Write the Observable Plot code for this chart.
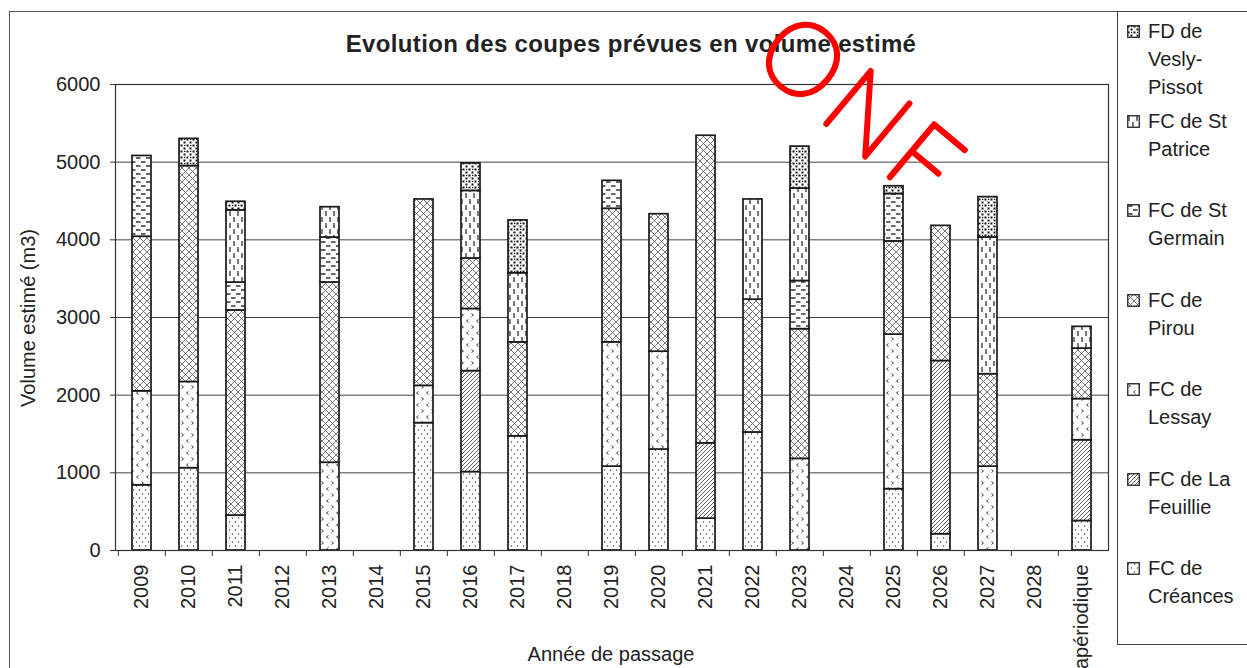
<!DOCTYPE html>
<html>
<head>
<meta charset="utf-8">
<script src="https://cdn.jsdelivr.net/npm/d3@7"></script>
<script src="https://cdn.jsdelivr.net/npm/@observablehq/plot@0.6"></script>
<style>
  body { margin: 0; background: #fff; font-family: "Liberation Sans", Arial, sans-serif; color: #222; }
  #wrap { position: relative; width: 1247px; height: 668px; overflow: hidden; background: #fff; }
  #frame { position: absolute; left: 9px; top: 11px; width: 1400px; height: 800px; border: 1.5px solid #555; box-sizing: border-box; }
  #chart { position: absolute; left: 0; top: 0; }
  #title { position: absolute; left: 0; width: 1262px; top: 32px; text-align: center; font-weight: bold; font-size: 24px; line-height: 24px; letter-spacing: 0.35px; color: #222; }
  #ylabel { position: absolute; left: 28px; top: 318px; font-size: 20px; line-height: 20px; white-space: nowrap; transform: translate(-50%, -50%) rotate(-90deg); }
  #xlabel { position: absolute; left: 0; width: 1222px; top: 644px; text-align: center; font-size: 20px; line-height: 20px; }
  #legend { position: absolute; left: 1117px; top: 11px; width: 300px; height: 634px; border: 1.5px solid #444; box-sizing: border-box; background: #fff; }
  .entry { position: absolute; left: 0; font-size: 20px; line-height: 28px; }
  .entry svg { position: absolute; left: 9px; top: 8px; }
  .entry .txt { position: absolute; left: 30px; top: 0; white-space: nowrap; }
  #wm { position: absolute; left: 0; top: 0; pointer-events: none; }
</style>
</head>
<body>
<div id="wrap">
  <svg width="0" height="0" style="position:absolute">
    <defs>
      <pattern id="p-creances" width="6" height="8" patternUnits="userSpaceOnUse">
        <rect width="6" height="8" fill="#fff"/>
        <circle cx="1.5" cy="2" r="0.75" fill="#444"/>
        <circle cx="4.5" cy="6" r="0.75" fill="#444"/>
      </pattern>
      <pattern id="p-feuillie" width="4" height="4" patternUnits="userSpaceOnUse">
        <rect width="4" height="4" fill="#fff"/>
        <path d="M-1,1 L1,-1 M0,4 L4,0 M3,5 L5,3" stroke="#444" stroke-width="0.85"/>
      </pattern>
      <pattern id="p-lessay" width="10" height="12" patternUnits="userSpaceOnUse">
        <rect width="10" height="12" fill="#fff"/>
        <path d="M1.5,1.5 L3.5,3 L1.5,4.5 M8.5,7.5 L6.5,9 L8.5,10.5" stroke="#444" stroke-width="1" fill="none"/>
      </pattern>
      <pattern id="p-pirou" width="7" height="7" patternUnits="userSpaceOnUse">
        <rect width="7" height="7" fill="#fff"/>
        <path d="M0,0 L7,7 M7,0 L0,7" stroke="#555" stroke-width="0.8"/>
      </pattern>
      <pattern id="p-germain" width="10" height="8" patternUnits="userSpaceOnUse">
        <rect width="10" height="8" fill="#fff"/>
        <path d="M1,2 L5.5,2 M6,6 L10.5,6 M-4,6 L0.5,6" stroke="#333" stroke-width="1.3"/>
      </pattern>
      <pattern id="p-patrice" width="8" height="12" patternUnits="userSpaceOnUse">
        <rect width="8" height="12" fill="#fff"/>
        <path d="M2,1 L2,6 M6,7 L6,12" stroke="#333" stroke-width="1.3"/>
      </pattern>
      <pattern id="p-vesly" width="6" height="6" patternUnits="userSpaceOnUse">
        <rect width="6" height="6" fill="#fff"/>
        <rect x="0.5" y="0.5" width="2" height="2" fill="#111"/>
        <rect x="3.5" y="3.5" width="2" height="2" fill="#111"/>
        <rect x="4" y="0.8" width="1.3" height="1.3" fill="#111"/>
      </pattern>
    </defs>
  </svg>
  <div id="frame"></div>
  <div id="chart"></div>
  <div id="title">Evolution des coupes prévues en volume estimé</div>
  <div id="ylabel">Volume estimé (m3)</div>
  <div id="xlabel">Année de passage</div>
  <div id="legend"></div>
  <svg id="wm" width="1247" height="668">
    <text transform="translate(840,136) rotate(40)" text-anchor="middle" font-family="Lato, 'DejaVu Sans', sans-serif" font-weight="100" font-size="100" letter-spacing="8" fill="#f00" stroke="#f00" stroke-width="5" stroke-linejoin="round">ONF</text>
  </svg>
</div>
<script>
const categories = ["2009","2010","2011","2012","2013","2014","2015","2016","2017","2018","2019","2020","2021","2022","2023","2024","2025","2026","2027","2028","apériodique"];
const forests = ["FC de Créances","FC de La Feuillie","FC de Lessay","FC de Pirou","FC de St Germain","FC de St Patrice","FD de Vesly-Pissot"];
const legendLines = [["FC de","Créances"],["FC de La","Feuillie"],["FC de","Lessay"],["FC de","Pirou"],["FC de St","Germain"],["FC de St","Patrice"],["FD de","Vesly-","Pissot"]];
const patternIds = ["p-creances","p-feuillie","p-lessay","p-pirou","p-germain","p-patrice","p-vesly"];

const creances = [840,1060,450,0,0,0,1640,1010,1470,0,1080,1300,410,1520,0,0,790,210,0,0,380];
const feuillie = [0,0,0,0,0,0,0,1300,0,0,0,0,970,0,0,0,0,2230,0,0,1040];
const lessay   = [1210,1110,0,0,1130,0,480,800,0,0,1600,1260,0,0,1180,0,1990,0,1080,0,530];
const pirou    = [1990,2780,2640,0,2320,0,2400,650,1210,0,1720,1770,3960,1710,1670,0,1200,1740,1190,0,650];
const germain  = [1040,0,360,0,580,0,0,0,0,0,360,0,0,0,620,0,610,0,0,0,0];
const patrice  = [0,0,930,0,390,0,0,870,890,0,0,0,0,1290,1190,0,0,0,1760,0,280];
const vesly    = [0,350,110,0,0,0,0,355,680,0,0,0,0,0,540,0,100,0,520,0,0];
const yTicks = [0,1000,2000,3000,4000,5000,6000];

const series = [creances, feuillie, lessay, pirou, germain, patrice, vesly];
const fills = patternIds.map(id => `url(#${id})`);

const rows = [];
forests.forEach((f, k) => series[k].forEach((v, i) => {
  if (v > 0) rows.push({cat: categories[i], forest: f, value: v});
}));

const W = 1110, ML = 115, MR = 2;
const bw = (W - ML - MR) / categories.length;

const chart = Plot.plot({
  width: W, height: 668,
  marginLeft: ML, marginRight: MR, marginTop: 84, marginBottom: 118,
  style: {fontFamily: "'Liberation Sans', Arial, sans-serif", fontSize: "20px", color: "#222", background: "transparent", overflow: "visible"},
  x: {type: "band", domain: categories, paddingInner: 0.6, paddingOuter: 0.3, label: null},
  y: {domain: [0, 6000], label: null},
  color: {type: "ordinal", domain: forests, range: fills},
  marks: [
    Plot.gridY(yTicks, {stroke: "#444", strokeOpacity: 1, strokeWidth: 1}),
    Plot.barY(rows, {x: "cat", y: "value", fill: "forest", stroke: "#1a1a1a", strokeWidth: 1.7, order: forests}),
    Plot.frame({stroke: "#333", strokeWidth: 1.2}),
    Plot.axisY(yTicks, {tickSize: 5, tickPadding: 10, fontSize: 20, tickFormat: d => String(d), stroke: "#333", label: null}),
    Plot.axisX({tickSize: 6, tickFormat: () => "", dx: -bw / 2, stroke: "#333", label: null}),
    Plot.axisX({tickSize: 0, tickPadding: 14, tickRotate: -90, fontSize: 20, label: null})
  ]
});
document.getElementById("chart").appendChild(chart);

// Legend (top entry = last stacked series)
const legend = document.getElementById("legend");
const order = [6,5,4,3,2,1,0];
order.forEach((k, j) => {
  const centerY = 30 + j * 89.5 - 11;
  const e = document.createElement("div");
  e.className = "entry";
  e.style.top = (centerY - 13.8) + "px";
  e.innerHTML = `<svg width="13" height="13"><rect x="0.75" y="0.75" width="11.5" height="11.5" fill="${fills[k]}" stroke="#222" stroke-width="1.3"/></svg><div class="txt">${legendLines[k].join("<br>")}</div>`;
  legend.appendChild(e);
});
</script>
</body>
</html>
